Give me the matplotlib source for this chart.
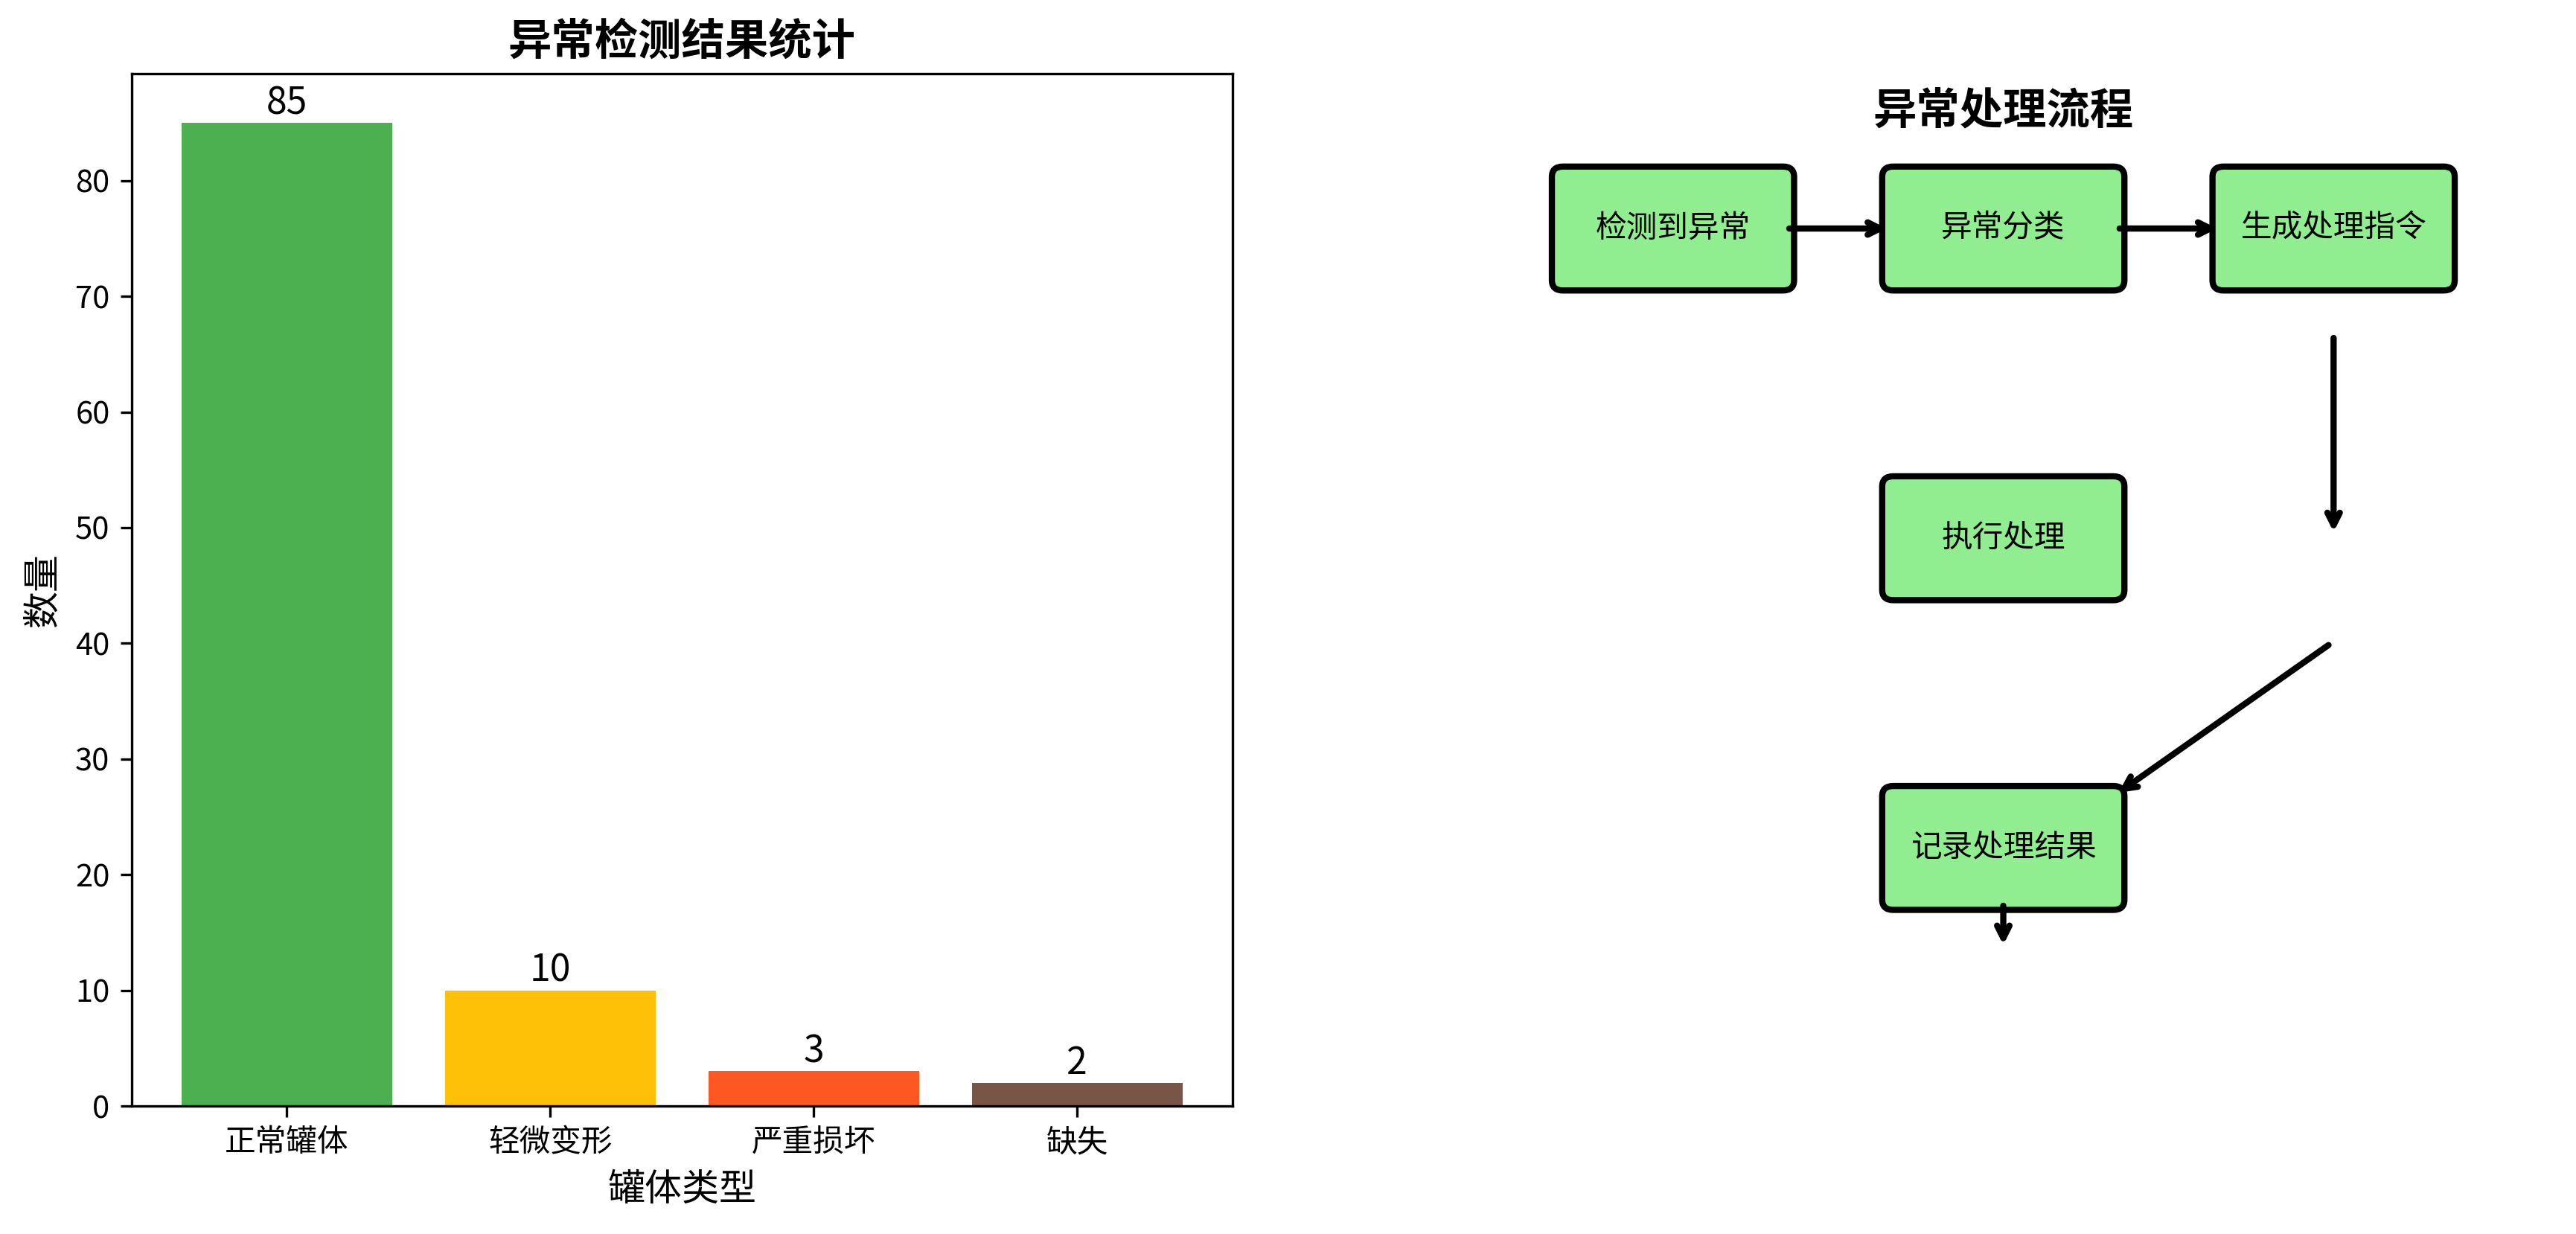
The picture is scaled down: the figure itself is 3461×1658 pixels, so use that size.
import matplotlib
matplotlib.use("Agg")
import matplotlib.pyplot as plt
from matplotlib.patches import FancyBboxPatch

plt.rcParams['font.family'] = ['Noto Sans CJK SC', 'DejaVu Sans']
plt.rcParams['axes.unicode_minus'] = False

# bar chart data
categories = ['正常罐体', '轻微变形', '严重损坏', '缺失']
counts = [85, 10, 3, 2]
bar_colors = ['#4CAF50', '#FFC107', '#FF5722', '#795548']

# flow chart data
steps = ['检测到异常', '异常分类', '生成处理指令', '执行处理', '记录处理结果']
step_x = [0.2, 0.5, 0.8, 0.5, 0.5]
step_y = [0.85, 0.85, 0.85, 0.55, 0.25]
arrow_from = [(0.3, 0.85), (0.6, 0.85), (0.8, 0.75), (0.8, 0.45), (0.5, 0.2)]
arrow_to = [(0.4, 0.85), (0.7, 0.85), (0.8, 0.55), (0.6, 0.3), (0.5, 0.15)]

fig = plt.figure(figsize=(3462 / 300, 1658 / 300), dpi=300)
ax1 = fig.add_axes([0.0510, 0.1037, 0.4273, 0.8366])
ax2 = fig.add_axes([0.5638, 0.1037, 0.4273, 0.8366])

# left: bar chart
bars = ax1.bar(categories, counts, color=bar_colors)
for b, v in zip(bars, counts):
    ax1.text(b.get_x() + b.get_width() / 2, b.get_height(), str(v),
             ha='center', va='bottom', fontsize=12)
ax1.set_title('异常检测结果统计', fontsize=14, fontweight='bold')
ax1.set_xlabel('罐体类型', fontsize=12)
ax1.set_ylabel('数量', fontsize=12)

# right: flow chart
ax2.set_xlim(0, 1)
ax2.set_ylim(0, 1)
ax2.axis('off')
ax2.text(0.5, 0.963, '异常处理流程', transform=ax2.transAxes, ha='center',
         va='center', fontsize=14, fontweight='bold')

for label, x, y in zip(steps, step_x, step_y):
    box = FancyBboxPatch((x - 0.1, y - 0.05), 0.2, 0.1,
                         boxstyle='round,pad=0.01', facecolor='lightgreen',
                         edgecolor='black', linewidth=2)
    ax2.add_patch(box)
    ax2.text(x, y, label, ha='center', va='center', fontsize=10)

for (x0, y0), (x1, y1) in zip(arrow_from, arrow_to):
    ax2.annotate('', xy=(x1, y1), xytext=(x0, y0),
                 arrowprops=dict(arrowstyle='->', lw=2, color='black'))

plt.savefig('out.png', dpi=300)
